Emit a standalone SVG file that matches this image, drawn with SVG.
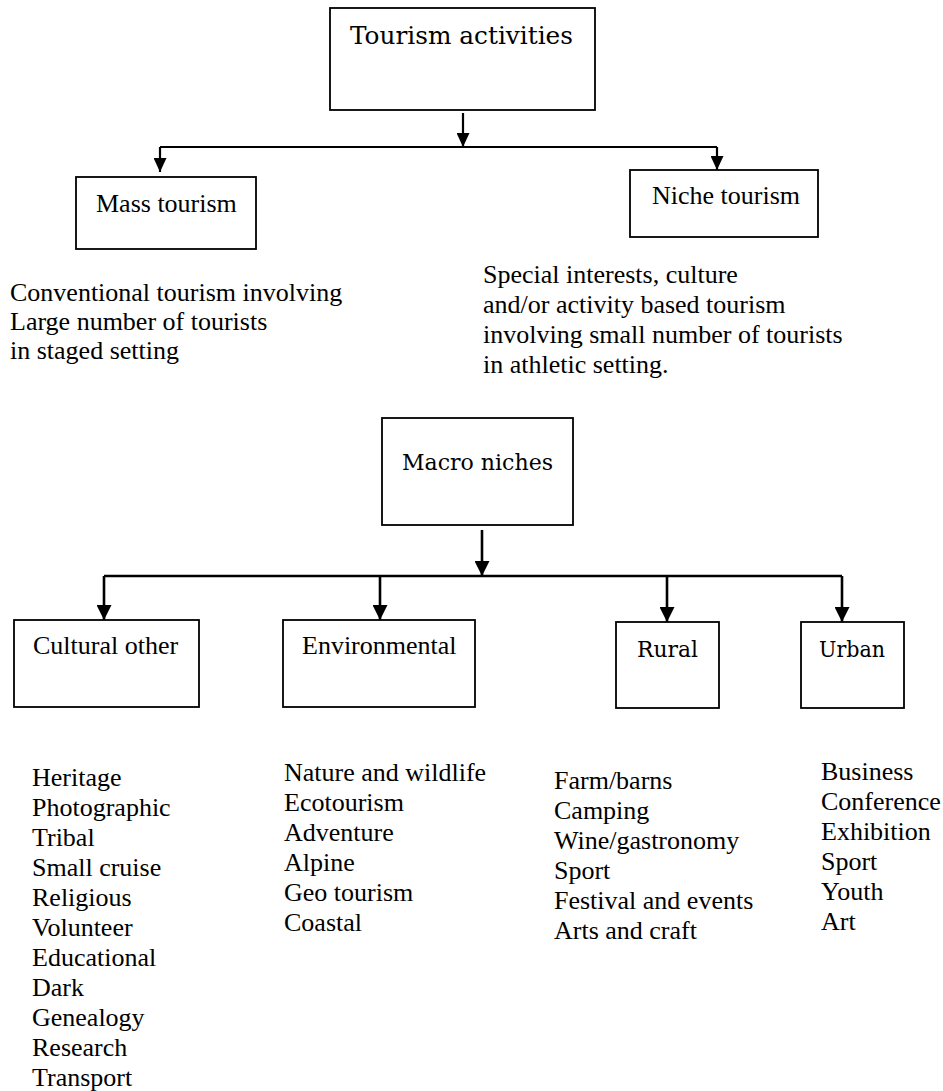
<svg xmlns="http://www.w3.org/2000/svg" width="943" height="1091" viewBox="0 0 943 1091">
<style>
.box{fill:#fff;stroke:#000;stroke-width:1.8}
.t{font-family:"Liberation Serif","Times New Roman",serif;font-size:26px;fill:#000}
.c{font-family:"DejaVu Serif","Liberation Serif",serif;fill:#000}
.ln{stroke:#000;stroke-width:2.2;fill:none}
.ln2{stroke:#000;stroke-width:2.6;fill:none}
</style>
<defs>
<marker id="ah" viewBox="0 0 14 13" refX="14" refY="6.5" markerWidth="14" markerHeight="13" markerUnits="userSpaceOnUse" orient="auto">
<path d="M0,0 L14,6.5 L0,13 z" fill="#000"/>
</marker>
<marker id="ah2" viewBox="0 0 15 15" refX="15" refY="7.5" markerWidth="15" markerHeight="15" markerUnits="userSpaceOnUse" orient="auto">
<path d="M0,0 L15,7.5 L0,15 z" fill="#000"/>
</marker>
</defs>
<rect width="943" height="1091" fill="#fff"/>
<g id="connectors">
<line class="ln" x1="463" y1="113" x2="463" y2="147" marker-end="url(#ah)"/>
<line class="ln" x1="160" y1="147" x2="717" y2="147"/>
<line class="ln" x1="160" y1="147" x2="160" y2="172" marker-end="url(#ah)"/>
<line class="ln" x1="717" y1="147" x2="717" y2="170" marker-end="url(#ah)"/>
<line class="ln2" x1="482" y1="530" x2="482" y2="576" marker-end="url(#ah2)"/>
<line class="ln2" x1="104" y1="576" x2="842" y2="576"/>
<line class="ln2" x1="104" y1="576" x2="104" y2="620" marker-end="url(#ah2)"/>
<line class="ln2" x1="380" y1="576" x2="380" y2="620" marker-end="url(#ah2)"/>
<line class="ln2" x1="667" y1="576" x2="667" y2="622" marker-end="url(#ah2)"/>
<line class="ln2" x1="842" y1="576" x2="842" y2="622" marker-end="url(#ah2)"/>
</g>
<g id="tourism-activities">
<rect class="box" x="330" y="8" width="265" height="102"/>
<text class="c" x="350" y="44" font-size="25" textLength="223" lengthAdjust="spacingAndGlyphs">Tourism activities</text>
</g>
<g id="mass-tourism">
<rect class="box" x="76" y="177" width="180" height="72"/>
<text class="t" x="96" y="212">Mass tourism</text>
</g>
<g id="niche-tourism">
<rect class="box" x="630" y="170" width="188" height="67"/>
<text class="t" x="652" y="204">Niche tourism</text>
</g>
<g id="mass-description">
<text class="t" x="10" y="301">Conventional tourism involving</text>
<text class="t" x="10" y="330">Large number of tourists</text>
<text class="t" x="10" y="359">in staged setting</text>
</g>
<g id="niche-description">
<text class="t" x="483" y="283">Special interests, culture</text>
<text class="t" x="483" y="313">and/or activity based tourism</text>
<text class="t" x="483" y="343">involving small number of tourists</text>
<text class="t" x="483" y="373">in athletic setting.</text>
</g>
<g id="macro-niches">
<rect class="box" x="382" y="418" width="191" height="107"/>
<text class="c" x="402" y="470" font-size="21.5" textLength="151" lengthAdjust="spacingAndGlyphs">Macro niches</text>
</g>
<g id="cultural-other">
<rect class="box" x="14" y="620" width="185" height="87"/>
<text class="t" x="33" y="654">Cultural other</text>
</g>
<g id="environmental">
<rect class="box" x="283" y="620" width="192" height="87"/>
<text class="t" x="302" y="654">Environmental</text>
</g>
<g id="rural">
<rect class="box" x="616" y="622" width="103" height="86"/>
<text class="c" x="637" y="657" font-size="21.5" textLength="61" lengthAdjust="spacingAndGlyphs">Rural</text>
</g>
<g id="urban">
<rect class="box" x="801" y="622" width="103" height="86"/>
<text class="c" x="819" y="657" font-size="21.5" textLength="66" lengthAdjust="spacingAndGlyphs">Urban</text>
</g>
<g id="cultural-list">
<text class="t" x="32" y="786">Heritage</text>
<text class="t" x="32" y="816">Photographic</text>
<text class="t" x="32" y="846">Tribal</text>
<text class="t" x="32" y="876">Small cruise</text>
<text class="t" x="32" y="906">Religious</text>
<text class="t" x="32" y="936">Volunteer</text>
<text class="t" x="32" y="966">Educational</text>
<text class="t" x="32" y="996">Dark</text>
<text class="t" x="32" y="1026">Genealogy</text>
<text class="t" x="32" y="1056">Research</text>
<text class="t" x="32" y="1086">Transport</text>
</g>
<g id="environmental-list">
<text class="t" x="284" y="781">Nature and wildlife</text>
<text class="t" x="284" y="811">Ecotourism</text>
<text class="t" x="284" y="841">Adventure</text>
<text class="t" x="284" y="871">Alpine</text>
<text class="t" x="284" y="901">Geo tourism</text>
<text class="t" x="284" y="931">Coastal</text>
</g>
<g id="rural-list">
<text class="t" x="554" y="789">Farm/barns</text>
<text class="t" x="554" y="819">Camping</text>
<text class="t" x="554" y="849">Wine/gastronomy</text>
<text class="t" x="554" y="879">Sport</text>
<text class="t" x="554" y="909">Festival and events</text>
<text class="t" x="554" y="939">Arts and craft</text>
</g>
<g id="urban-list">
<text class="t" x="821" y="780">Business</text>
<text class="t" x="821" y="810">Conference</text>
<text class="t" x="821" y="840">Exhibition</text>
<text class="t" x="821" y="870">Sport</text>
<text class="t" x="821" y="900">Youth</text>
<text class="t" x="821" y="930">Art</text>
</g>
</svg>
